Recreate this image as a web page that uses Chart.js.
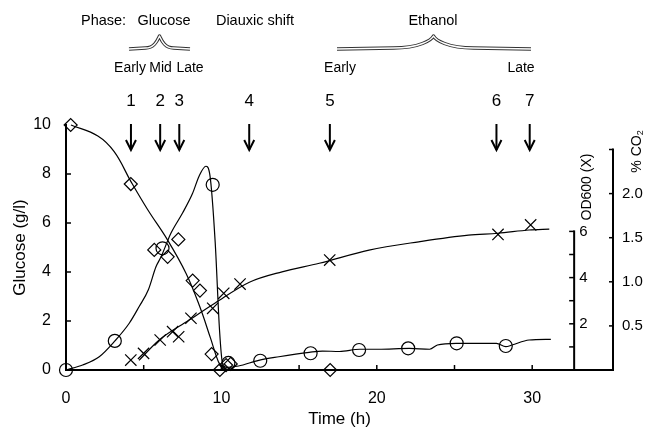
<!DOCTYPE html>
<html><head><meta charset="utf-8">
<script src="https://cdn.jsdelivr.net/npm/chart.js@4.4.0/dist/chart.umd.min.js"></script>
<style>html,body{margin:0;padding:0;background:#fff;}canvas{display:block;}</style>
</head><body>
<canvas id="c" width="647" height="430"></canvas>
<script>
// ---------- data ----------
// Glucose (g/l), diamonds
const glucoseT = [0.3, 4.17, 5.68, 6.54, 7.23, 8.15, 8.62, 9.37, 9.9, 10.3, 10.6, 17.0];
const glucose  = [10.0, 7.59, 4.9, 4.62, 5.33, 3.65, 3.24, 0.65, 0.0, 0.2, 0.25, 0.0];
// Glucose fitted curve
const glucoseFitT = [0.32, 2.05, 3.1, 4.18, 5.25, 6.53, 7.72, 8.6, 9.3, 9.8, 10.15];
const glucoseFit  = [10.0, 9.55, 8.91, 7.69, 6.55, 5.31, 3.95, 2.6, 1.3, 0.35, 0.0];
// OD600, crosses
const odT  = [4.17, 4.99, 6.06, 6.86, 7.25, 8.04, 9.44, 10.15, 11.2, 16.97, 27.8, 29.9];
const od600 = [0.43, 0.72, 1.30, 1.66, 1.44, 2.24, 2.67, 3.32, 3.72, 4.76, 5.87, 6.28];
// OD600 fitted curve
const odFitT = [4.7, 6.0, 7.9, 9.6, 11.8, 13.9, 16.3, 19.5, 22.7, 25.9, 27.8, 29.8, 31.1];
const odFit  = [0.42, 1.3, 2.15, 2.9, 3.8, 4.25, 4.62, 5.19, 5.55, 5.84, 5.92, 6.06, 6.1];
// % CO2, circles
const co2T = [0, 3.14, 6.21, 9.44, 10.45, 12.5, 15.74, 18.86, 22.02, 25.14, 28.3];
const co2  = [0, 0.33, 1.38, 2.10, 0.08, 0.105, 0.19, 0.227, 0.246, 0.303, 0.272];
// % CO2 continuous trace
const co2TraceT = [0, 1.07, 2.14, 3.15, 4.07, 4.71, 5.3, 5.79, 6.11, 6.75, 7.5, 8.14, 8.57, 9.0, 9.26, 9.6, 9.88, 10.07, 10.35, 11.1, 12.4, 13.7, 15.65, 16.5, 17.6, 18.9, 20.1, 22.1, 23.4, 23.9, 25.1, 26.4, 27.7, 28.3, 28.7, 29.8, 31.2];
const co2Trace  = [0, 0.057, 0.15, 0.33, 0.53, 0.72, 0.91, 1.17, 1.28, 1.55, 1.78, 2.0, 2.2, 2.31, 2.21, 1.45, 0.45, 0.08, 0.03, 0.045, 0.11, 0.15, 0.2, 0.215, 0.21, 0.235, 0.235, 0.246, 0.235, 0.283, 0.303, 0.303, 0.303, 0.264, 0.283, 0.34, 0.348];
// sampling points (arrows)
const sampleT = [4.18, 6.06, 7.29, 11.79, 16.98, 27.7, 29.84];
const sampleLabels = ['1', '2', '3', '4', '5', '6', '7'];
// tick values
const xTickLabels = [0, 10, 20, 30];
const xTickMarks = [5, 10, 15, 20, 25, 30];
const glucoseTickMarks = [2, 4, 6, 8];
const odTickMarks = [1, 2, 3, 4, 5, 6];
const odTickLabels = [2, 4, 6];
const co2TickMarks = [0.5, 1.0, 1.5, 2.0, 2.5];
const co2TickLabels = [0.5, 1.0, 1.5, 2.0];
const odAxisAt = 32.7;   // time (h) where the OD600 axis stands
const odAxisTop = 6;
const co2AxisTop = 2.5;

// ---------- helpers ----------
const FONT = '"Liberation Sans", Arial, Helvetica, sans-serif';
const pts = (xs, ys) => xs.map((x, i) => ({x: x, y: ys[i]}));

function seg(ctx, x1, y1, x2, y2) { ctx.beginPath(); ctx.moveTo(x1, y1); ctx.lineTo(x2, y2); ctx.stroke(); }
function txt(ctx, s, x, y, size, align) {
  ctx.font = size + 'px ' + FONT; ctx.textAlign = align || 'center'; ctx.textBaseline = 'middle'; ctx.fillText(s, x, y);
}
function brace(ctx, x1, xp, x2, w, yArm, yPeak) {
  const path = () => {
    ctx.beginPath();
    ctx.moveTo(x1, yArm + 1);
    ctx.lineTo(xp - w, yArm);
    ctx.bezierCurveTo(xp - w * 0.35, yArm, xp - 2, yPeak + 4, xp, yPeak);
    ctx.bezierCurveTo(xp + 2, yPeak + 4, xp + w * 0.35, yArm, xp + w, yArm);
    ctx.lineTo(x2, yArm + 1);
  };
  ctx.lineJoin = 'round';
  path(); ctx.strokeStyle = '#333'; ctx.lineWidth = 3.4; ctx.stroke();
  path(); ctx.strokeStyle = '#fff'; ctx.lineWidth = 1.4; ctx.stroke();
}

const extras = {
  id: 'extras',
  afterDraw(chart) {
    const ctx = chart.ctx, ca = chart.chartArea;
    const x = chart.scales.x, y = chart.scales.y, yOD = chart.scales.yOD, yC = chart.scales.yCO2;
    ctx.save();
    ctx.strokeStyle = '#000'; ctx.fillStyle = '#000';
    // inward tick marks on the time and glucose axes
    ctx.lineWidth = 1.5;
    xTickMarks.forEach(v => { const p = x.getPixelForValue(v); seg(ctx, p, ca.bottom, p, ca.bottom - 5); });
    glucoseTickMarks.forEach(v => { const p = y.getPixelForValue(v); seg(ctx, ca.left, p, ca.left + 5, p); });
    // OD600 axis
    const xo = x.getPixelForValue(odAxisAt);
    ctx.lineWidth = 2;
    seg(ctx, xo, ca.bottom + 1, xo, yOD.getPixelForValue(odAxisTop) - 1);
    ctx.lineWidth = 1.5;
    odTickMarks.forEach(v => { const p = yOD.getPixelForValue(v); seg(ctx, xo, p, xo - 5, p); });
    odTickLabels.forEach(v => txt(ctx, String(v), xo + 5, yOD.getPixelForValue(v), 15, 'left'));
    ctx.save(); ctx.translate(xo + 13, 187); ctx.rotate(-Math.PI / 2); txt(ctx, 'OD600 (X)', 0, 0, 14); ctx.restore();
    // %CO2 axis
    const xc = ca.right;
    ctx.lineWidth = 2;
    seg(ctx, xc, ca.bottom + 1, xc, yC.getPixelForValue(co2AxisTop) - 1);
    ctx.lineWidth = 1.5;
    co2TickMarks.forEach(v => { const p = yC.getPixelForValue(v); seg(ctx, xc, p, xc - 4, p); });
    co2TickLabels.forEach(v => txt(ctx, v.toFixed(1), xc + 9, yC.getPixelForValue(v), 15, 'left'));
    ctx.save(); ctx.translate(xc + 24, 151); ctx.rotate(-Math.PI / 2);
    ctx.font = '14px ' + FONT; ctx.textBaseline = 'middle'; ctx.textAlign = 'left';
    const w1 = ctx.measureText('% CO').width, w2 = 6;
    const start = -(w1 + w2) / 2;
    ctx.fillText('% CO', start, 0);
    ctx.font = '9px ' + FONT; ctx.fillText('2', start + w1, 4);
    ctx.restore();
    // sampling arrows and numbers
    ctx.lineWidth = 2;
    sampleT.forEach((t, i) => {
      const p = x.getPixelForValue(t);
      seg(ctx, p, 124, p, 150);
      ctx.beginPath(); ctx.moveTo(p - 5, 140); ctx.lineTo(p, 150); ctx.lineTo(p + 5, 140); ctx.stroke();
      txt(ctx, sampleLabels[i], p, 101, 17);
    });
    // phase header
    txt(ctx, 'Phase:', 81, 21, 14.5, 'left');
    txt(ctx, 'Glucose', 164, 21, 14.5);
    txt(ctx, 'Diauxic shift', 255, 21, 14.5);
    txt(ctx, 'Ethanol', 433, 21, 14.5);
    brace(ctx, 129, 159.5, 190, 14, 48, 36);
    brace(ctx, 337, 433.5, 531, 40, 48, 36);
    ctx.fillStyle = '#000';
    txt(ctx, 'Early', 130, 68, 14);
    txt(ctx, 'Mid', 160.5, 68, 14);
    txt(ctx, 'Late', 190, 68, 14);
    txt(ctx, 'Early', 340, 68, 14);
    txt(ctx, 'Late', 521, 68, 14);
    ctx.restore();
  }
};

const line = (data, axis, mode, tension) => ({data: data, yAxisID: axis, showLine: true, pointRadius: 0, borderColor: '#000', borderWidth: 1.2, cubicInterpolationMode: mode, tension: tension, clip: false});
const marks = (data, axis, style, r) => ({data: data, yAxisID: axis, showLine: false, pointStyle: style, pointRadius: r, borderColor: '#000', backgroundColor: 'rgba(0,0,0,0)', pointBorderWidth: 1.2, clip: false});

new Chart(document.getElementById('c'), {
  type: 'scatter',
  data: {datasets: [
    line(pts(glucoseFitT, glucoseFit), 'y', 'default', 0.4),
    marks(pts(glucoseT, glucose), 'y', 'rectRot', 6.5),
    line(pts(odFitT, odFit), 'yOD', 'monotone', 0.4),
    marks(pts(odT, od600), 'yOD', 'crossRot', 8),
    line(pts(co2TraceT, co2Trace), 'yCO2', 'monotone', 0.4),
    marks(pts(co2T, co2), 'yCO2', 'circle', 6.5)
  ]},
  options: {
    responsive: false, animation: false, events: [],
    layout: {padding: {top: 125, right: 34, left: 0, bottom: 0}},
    plugins: {legend: {display: false}, tooltip: {enabled: false}},
    scales: {
      x: {type: 'linear', position: 'bottom', min: 0, max: 35.2,
        afterFit: s => { s.height = 60; },
        grid: {display: false, drawTicks: false},
        border: {display: true, color: '#000', width: 2},
        ticks: {stepSize: 5, autoSkip: false, maxRotation: 0, padding: 19, color: '#000', font: {family: FONT, size: 16},
          callback: v => (xTickLabels.includes(v) ? String(v) : '')},
        title: {display: true, text: 'Time (h)', color: '#000', font: {family: FONT, size: 17}, padding: {top: 0, bottom: 0}}
      },
      y: {type: 'linear', position: 'left', min: 0, max: 10,
        afterFit: s => { s.width = 66; },
        grid: {display: false, drawTicks: false},
        border: {display: true, color: '#000', width: 2},
        ticks: {stepSize: 2, padding: 15, color: '#000', font: {family: FONT, size: 16}},
        title: {display: true, text: 'Glucose (g/l)', color: '#000', font: {family: FONT, size: 17}, padding: {top: 10, bottom: 0}}
      },
      yOD: {type: 'linear', display: false, min: 0, max: 245 / 23.1},
      yCO2: {type: 'linear', display: false, min: 0, max: 245 / 88.2}
    }
  },
  plugins: [extras]
});
</script>
</body></html>
